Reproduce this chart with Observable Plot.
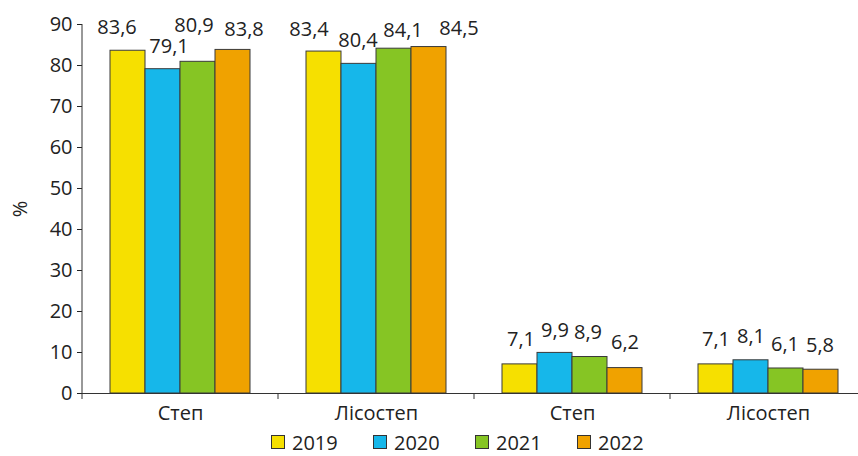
<!DOCTYPE html>
<html>
<head>
<meta charset="utf-8">
<script src="https://cdn.jsdelivr.net/npm/d3@7"></script>
<script src="https://cdn.jsdelivr.net/npm/@observablehq/plot@0.6"></script>
<style>
  html, body { margin: 0; padding: 0; background: #fff; }
  body { width: 858px; height: 456px; overflow: hidden; font-family: "Open Sans", sans-serif; }
  #chart { width: 858px; overflow: hidden; height: 428px; }
  #chart svg { max-width: none !important; display: block; }
  #legend { display: flex; margin-left: 271px; height: 28px; align-items: center; font-size: 20px; color: #222; }
  #legend .item { display: flex; align-items: center; width: 102px; }
  #legend .sw { width: 12px; height: 12px; border: 1px solid #333; margin-right: 7px; }
</style>
</head>
<body>
<div id="chart"></div>
<div id="legend"></div>
<script>
const categories = ["Степ", "Лісостеп", "Степ", "Лісостеп"];
const years = ["2019", "2020", "2021", "2022"];
const colors = ["#F6E000", "#16B7EA", "#86C524", "#F0A200"];
const values2019 = [83.6, 83.4, 7.1, 7.1];
const values2020 = [79.1, 80.4, 9.9, 8.1];
const values2021 = [80.9, 84.1, 8.9, 6.1];
const values2022 = [83.8, 84.5, 6.2, 5.8];
const yTicks = [0, 10, 20, 30, 40, 50, 60, 70, 80, 90];

// manual label nudges (pixels) as in the original, per group, per year: [dx, dy]
const labelNudges = [
  [[-11, 1], [6, 1], [-4, -12], [11, 4]],
  [[-15, 2], [-1, 1], [9, 6], [30, 6]],
  [[1, -1], [0, 2], [-2, 0], [0, -1]],
  [[0, -1], [0, 0], [-1, 0], [-1, 0]]
];

const series = [values2019, values2020, values2021, values2022];
const data = [];
categories.forEach((c, i) => {
  years.forEach((y, j) => {
    data.push({group: i, year: y, value: series[j][i], nudge: labelNudges[i][j]});
  });
});

const fmt = v => d3.format(".1f")(v).replace(".", ",");

const chart = Plot.plot({
  width: 866,
  height: 428,
  marginLeft: 81,
  marginRight: 0,
  marginTop: 24,
  marginBottom: 35,
  style: {fontFamily: "'Open Sans', sans-serif", fontSize: "20px", color: "#222", background: "#fff", overflow: "visible", maxWidth: "none"},
  fx: {domain: d3.range(categories.length), padding: 0, tickFormat: i => categories[i], tickSize: 0, tickPadding: 12, label: null},
  x: {domain: years, paddingInner: 0, paddingOuter: 0.784, axis: null},
  y: {domain: [0, 90], ticks: yTicks, tickSize: 5, tickPadding: 5, label: "%", labelAnchor: "center", labelOffset: 70, labelArrow: "none"},
  color: {domain: years, range: colors},
  marks: [
    Plot.barY(data, {fx: "group", x: "year", y: "value", fill: "year", stroke: "#3a3a3a", strokeWidth: 1}),
    Plot.ruleY([0], {stroke: "#333", strokeWidth: 1}),
    ...data.map(d => Plot.text([d], {fx: "group", x: "year", y: "value", text: e => fmt(e.value), dx: d.nudge[0], dy: -24 + d.nudge[1], fill: "#222", fontSize: 20}))
  ]
});
document.getElementById("chart").appendChild(chart);

// axis line and group boundary ticks, from the chart's own scales
const fxs = chart.scale("fx");
const ys = chart.scale("y");
const svg = d3.select(chart);
const y0 = ys.apply(0), yTop = ys.apply(90);
const left = fxs.apply(fxs.domain[0]);
svg.append("line").attr("x1", left).attr("x2", left).attr("y1", yTop).attr("y2", y0 + 6)
  .attr("stroke", "#333").attr("stroke-width", 1);
fxs.domain.slice(1).forEach(d => {
  const xe = fxs.apply(d);
  svg.append("line").attr("x1", xe).attr("x2", xe).attr("y1", y0).attr("y2", y0 + 6)
    .attr("stroke", "#333").attr("stroke-width", 1);
});

const legend = document.getElementById("legend");
years.forEach((y, j) => {
  const item = document.createElement("div");
  item.className = "item";
  const sw = document.createElement("div");
  sw.className = "sw";
  sw.style.background = colors[j];
  const t = document.createElement("span");
  t.textContent = y;
  item.appendChild(sw);
  item.appendChild(t);
  legend.appendChild(item);
});
</script>
</body>
</html>
